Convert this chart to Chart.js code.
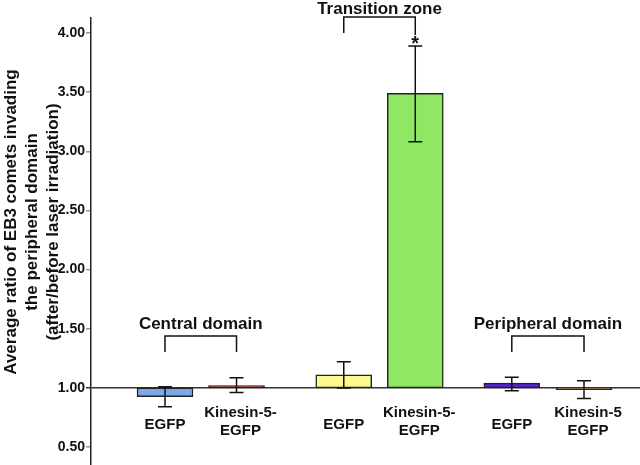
<!DOCTYPE html>
<html>
<head>
<meta charset="utf-8">
<script src="https://cdn.jsdelivr.net/npm/chart.js@4/dist/chart.umd.min.js"></script>
<style>
	html, body { margin: 0; padding: 0; background: #fff; }
	#wrap { width: 640px; height: 465px; }
</style>
</head>
<body>
<div id="wrap"><canvas id="eb3Chart"></canvas></div>
<script>
// bar values are ratios, drawn as floating bars from the 1.00 baseline
const barLabels = [["EGFP"], ["Kinesin-5-", "EGFP"], ["EGFP"], ["Kinesin-5-", "EGFP"], ["EGFP"], ["Kinesin-5", "EGFP"]];
const barPos = [1, 2, 3.5, 4.5, 5.85, 6.86];
const ratios = [0.925, 1.02, 1.11, 3.49, 1.04, 0.985];
const errLow = [0.84, 0.96, 1.0, 3.08, 0.975, 0.91];
const errHigh = [1.01, 1.085, 1.22, 3.89, 1.09, 1.06];
const barColors = ['#7fa6ea', '#8c1c1c', '#fbfa8e', '#90e763', '#5b1fe8', '#b27c32'];
const groupNames = ["Central domain", "Transition zone", "Peripheral domain"];
const groupBars = [[0, 1], [2, 3], [4, 5]];
const yTicks = [0.5, 1.0, 1.5, 2.0, 2.5, 3.0, 3.5, 4.0];
const baseline = 1.0;
const yTitle = ["Average ratio of EB3 comets invading", "the peripheral domain", "(after/before laser irradiation)"];

const font = '"Liberation Sans", Arial, sans-serif';

const overlay = {
	id: 'overlay',
	afterDatasetsDraw: function(chart)
	{
		let ctx = chart.ctx;
		let xs = chart.scales.x;
		let ys = chart.scales.y;
		let base = ys.getPixelForValue(baseline);
		ctx.save();

		// error bars
		ctx.strokeStyle = '#111';
		ctx.lineWidth = 1.5;
		for (let i = 0; i < ratios.length; i++)
		{
			let x = xs.getPixelForValue(barPos[i]);
			let lo = ys.getPixelForValue(errLow[i]);
			let hi = ys.getPixelForValue(errHigh[i]);
			ctx.beginPath();
			ctx.moveTo(x, lo); ctx.lineTo(x, hi);
			ctx.moveTo(x - 7, lo); ctx.lineTo(x + 7, lo);
			ctx.moveTo(x - 7, hi); ctx.lineTo(x + 7, hi);
			ctx.stroke();
		}

		// category labels under the baseline
		ctx.fillStyle = '#111';
		ctx.font = 'bold 15px ' + font;
		ctx.textAlign = 'center';
		ctx.textBaseline = 'middle';
		for (let i = 0; i < barLabels.length; i++)
		{
			let x = xs.getPixelForValue(barPos[i]);
			let lines = barLabels[i];
			if (lines.length === 1)
			{
				ctx.fillText(lines[0], x, base + 37);
			}
			else
			{
				ctx.fillText(lines[0], x + 4, base + 25);
				ctx.fillText(lines[1], x + 4, base + 43);
			}
		}

		// group brackets
		ctx.font = 'bold 17px ' + font;
		ctx.lineWidth = 1.5;
		for (let g = 0; g < groupNames.length; g++)
		{
			let x1 = xs.getPixelForValue(barPos[groupBars[g][0]]);
			let x2 = xs.getPixelForValue(barPos[groupBars[g][1]]);
			let top, bot1, bot2, ty;
			if (g === 1)
			{
				top = 17; bot1 = 33; bot2 = 35; ty = 9;
			}
			else
			{
				top = base - 52; bot1 = base - 36; bot2 = base - 36; ty = base - 64;
			}
			ctx.beginPath();
			ctx.moveTo(x1, bot1); ctx.lineTo(x1, top); ctx.lineTo(x2, top); ctx.lineTo(x2, bot2);
			ctx.stroke();
			ctx.fillText(groupNames[g], (x1 + x2) / 2, ty);
		}

		// significance star
		ctx.font = 'bold 20px ' + font;
		ctx.fillText('*', xs.getPixelForValue(barPos[3]), 44);

		// y axis title
		ctx.font = 'bold 17px ' + font;
		ctx.translate(0, 222);
		ctx.rotate(-Math.PI / 2);
		let cols = [11, 32, 53];
		for (let i = 0; i < yTitle.length; i++)
		{
			ctx.fillText(yTitle[i], 0, cols[i]);
		}
		ctx.restore();
	}
};

let ctx = document.getElementById('eb3Chart').getContext('2d');
let eb3Chart = new Chart(ctx, {
	type: 'bar',
	data: {
		datasets: [{
			data: barPos.map((p, i) => ({ x: p, y: [baseline, ratios[i]] })),
			backgroundColor: barColors,
			borderColor: '#222',
			borderWidth: 1.5,
			borderSkipped: false,
			barThickness: 56
		}]
	},
	options: {
		responsive: true,
		maintainAspectRatio: false,
		animation: false,
		layout: { padding: { top: 18, right: 0, bottom: 0, left: 0 } },
		plugins: {
			legend: { display: false },
			tooltip: { enabled: false }
		},
		scales: {
			x: {
				type: 'linear',
				offset: false,
				min: -0.035,
				max: 7.643,
				display: false
			},
			y: {
				min: 0.348,
				max: 4.127,
				afterFit: function(scale)
				{
					scale.width = 91;
					scale.paddingTop = 0;
					scale.paddingBottom = 0;
				},
				afterBuildTicks: function(scale) { scale.ticks = yTicks.map(v => ({ value: v })); },
				border: { display: true, color: '#222', width: 1.5 },
				grid: {
					drawOnChartArea: true,
					color: c => (c.tick && c.tick.value === baseline) ? '#333' : 'rgba(0,0,0,0)',
					tickColor: c => (c.tick && c.tick.value === baseline) ? '#333' : '#999',
					tickLength: 5,
					lineWidth: 1.5
				},
				ticks: {
					color: '#111',
					padding: 1,
					font: { family: font, size: 14, weight: 'bold' },
					callback: v => Number(v).toFixed(2)
				}
			}
		}
	},
	plugins: [overlay]
});
</script>
</body>
</html>
